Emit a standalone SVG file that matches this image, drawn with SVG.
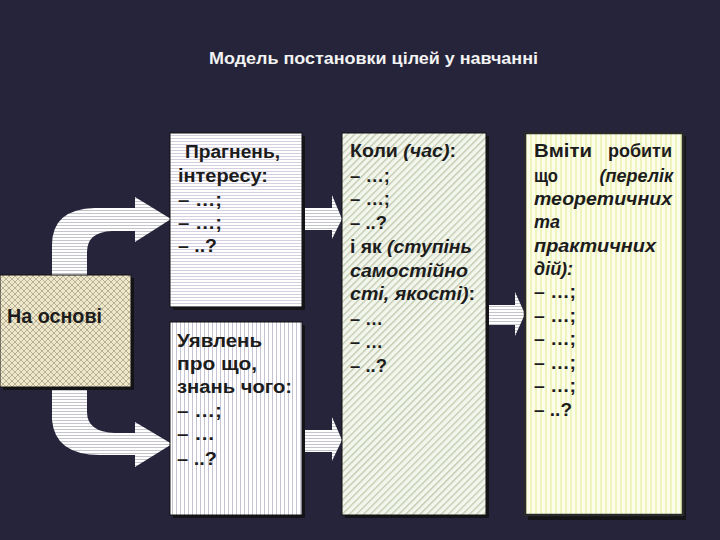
<svg xmlns="http://www.w3.org/2000/svg" width="720" height="540" viewBox="0 0 720 540">
<defs>
<pattern id="pArrow" width="4" height="3" patternUnits="userSpaceOnUse"><rect width="4" height="3" fill="#ffffff"/><rect y="0" width="4" height="1" fill="#c4c4cc"/></pattern>
<pattern id="pH" width="4" height="3" patternUnits="userSpaceOnUse"><rect width="4" height="3" fill="#ffffff"/><rect y="0" width="4" height="1" fill="#d4d0e2"/></pattern>
<pattern id="pV" width="4" height="4" patternUnits="userSpaceOnUse"><rect width="4" height="4" fill="#ffffff"/><rect x="0" width="1" height="4" fill="#c6c4d4"/></pattern>
<pattern id="pD" width="5" height="5" patternUnits="userSpaceOnUse" patternTransform="rotate(45)"><rect width="5" height="5" fill="#f3f6ec"/><rect x="0" width="1.3" height="5" fill="#bfc8ae"/></pattern>
<pattern id="pY" width="5" height="4" patternUnits="userSpaceOnUse"><rect width="5" height="4" fill="#fdfdec"/><rect x="0" width="2" height="4" fill="#eef4bc"/></pattern>
<pattern id="pX" width="6" height="6" patternUnits="userSpaceOnUse"><rect width="6" height="6" fill="#efe7c9"/><path d="M0,3 L3,0 L6,3 L3,6 Z" fill="none" stroke="#aaa28a" stroke-width="0.8"/></pattern>
<style>
.bg{fill:#26243a}
.sh{fill:#141418}
.bx{stroke:#111111;stroke-width:1}
.ar{fill:url(#pArrow)}
.t{font-family:"Liberation Sans",Arial,sans-serif;font-weight:bold;font-size:18px;fill:#1c1c1c}
.i{font-style:italic}
.title{font-family:"Liberation Sans",Arial,sans-serif;font-size:16px;font-weight:bold;fill:#f2f2f2}
</style>
</defs>
<rect class="bg" x="0" y="0" width="720" height="540"/>
<text class="title" x="209" y="64" textLength="329" lengthAdjust="spacingAndGlyphs">Модель постановки цілей у навчанні</text>

<g id="connectors">
<path class="ar" d="M52,275 L52,245 Q52,209 95,208 L135,208 L135,197 L171,219 L135,242 L135,231 L112,231 Q87,232 87,252 L87,275 Z"/>
<path class="ar" d="M52,387 L52,420 Q55,455 100,455 L135,455 L135,467 L172,444 L135,422 L135,433 L115,433 Q87,432 87,412 L87,387 Z"/>
<path class="ar" d="M302,208 L332,208 L332,195 L342,219 L332,239 L332,230 L302,230 Z"/>
<path class="ar" d="M302,430 L332,430 L332,417 L342,440 L332,461 L332,452 L302,452 Z"/>
<path class="ar" d="M487,305 L515,305 L515,292 L525,314 L515,336 L515,325 L487,325 Z"/>
</g>

<g id="n_basis">
<rect class="sh" x="3" y="278" width="131" height="112"/>
<rect x="0" y="275" width="131" height="112" fill="url(#pX)" class="bx"/>
<text class="t" x="7" y="323" style="font-size:20px" textLength="95" lengthAdjust="spacingAndGlyphs">На основі</text>
</g>

<g id="n_aspire">
<rect class="sh" x="173" y="136" width="132" height="174"/>
<rect x="170" y="133" width="132" height="174" fill="url(#pH)" class="bx"/>
<text class="t" x="185" y="158" textLength="95" lengthAdjust="spacingAndGlyphs">Прагнень,</text>
<text class="t" x="178" y="182" textLength="90" lengthAdjust="spacingAndGlyphs">інтересу:</text>
<text class="t" x="178" y="206" textLength="44" lengthAdjust="spacingAndGlyphs">– …;</text>
<text class="t" x="178" y="229" textLength="44" lengthAdjust="spacingAndGlyphs">– …;</text>
<text class="t" x="178" y="252" textLength="39" lengthAdjust="spacingAndGlyphs">– ..?</text>
</g>

<g id="n_idea">
<rect class="sh" x="173" y="325" width="132" height="193"/>
<rect x="170" y="322" width="132" height="193" fill="url(#pV)" class="bx"/>
<text class="t" x="177" y="347" textLength="85" lengthAdjust="spacingAndGlyphs">Уявлень</text>
<text class="t" x="177" y="370" textLength="80" lengthAdjust="spacingAndGlyphs">про що,</text>
<text class="t" x="177" y="393" textLength="115" lengthAdjust="spacingAndGlyphs">знань чого:</text>
<text class="t" x="177" y="417" textLength="45" lengthAdjust="spacingAndGlyphs">– …;</text>
<text class="t" x="177" y="440" textLength="38" lengthAdjust="spacingAndGlyphs">– …</text>
<text class="t" x="177" y="465" textLength="40" lengthAdjust="spacingAndGlyphs">– ..?</text>
</g>

<g id="n_when">
<rect class="sh" x="345" y="136" width="144" height="382"/>
<rect x="342" y="133" width="144" height="382" fill="url(#pD)" class="bx"/>
<text class="t" x="350" y="157" textLength="106" lengthAdjust="spacingAndGlyphs">Коли <tspan class="i">(час)</tspan>:</text>
<text class="t" x="350" y="182" textLength="40" lengthAdjust="spacingAndGlyphs">– …;</text>
<text class="t" x="350" y="205" textLength="40" lengthAdjust="spacingAndGlyphs">– …;</text>
<text class="t" x="350" y="229" textLength="37" lengthAdjust="spacingAndGlyphs">– ..?</text>
<text class="t" x="350" y="253" textLength="122" lengthAdjust="spacingAndGlyphs">і як <tspan class="i">(ступінь</tspan></text>
<text class="t i" x="350" y="277" textLength="118" lengthAdjust="spacingAndGlyphs">самостійно</text>
<text class="t" x="350" y="300" textLength="125" lengthAdjust="spacingAndGlyphs"><tspan class="i">сті, якості)</tspan>:</text>
<text class="t" x="350" y="325" textLength="33" lengthAdjust="spacingAndGlyphs">– …</text>
<text class="t" x="350" y="348" textLength="33" lengthAdjust="spacingAndGlyphs">– …</text>
<text class="t" x="350" y="372" textLength="37" lengthAdjust="spacingAndGlyphs">– ..?</text>
</g>

<g id="n_skill">
<rect class="sh" x="528" y="136" width="158" height="384"/>
<rect x="525" y="133" width="158" height="382" fill="url(#pY)" stroke="#2a2a2a" stroke-width="2.5"/>
<text class="t" x="534" y="157" textLength="58" lengthAdjust="spacingAndGlyphs">Вміти</text>
<text class="t" x="672" y="157" text-anchor="end">робити</text>
<text class="t" x="534" y="182" textLength="24" lengthAdjust="spacingAndGlyphs">що</text>
<text class="t i" x="673" y="182" text-anchor="end">(перелік</text>
<text class="t i" x="534" y="205" textLength="138" lengthAdjust="spacingAndGlyphs">теоретичних</text>
<text class="t i" x="534" y="228">та</text>
<text class="t i" x="534" y="252" textLength="122" lengthAdjust="spacingAndGlyphs">практичних</text>
<text class="t i" x="534" y="275">дій):</text>
<text class="t" x="534" y="298" textLength="42" lengthAdjust="spacingAndGlyphs">– …;</text>
<text class="t" x="534" y="322" textLength="42" lengthAdjust="spacingAndGlyphs">– …;</text>
<text class="t" x="534" y="345" textLength="42" lengthAdjust="spacingAndGlyphs">– …;</text>
<text class="t" x="534" y="369" textLength="42" lengthAdjust="spacingAndGlyphs">– …;</text>
<text class="t" x="534" y="392" textLength="42" lengthAdjust="spacingAndGlyphs">– …;</text>
<text class="t" x="534" y="416" textLength="38" lengthAdjust="spacingAndGlyphs">– ..?</text>
</g>
</svg>
